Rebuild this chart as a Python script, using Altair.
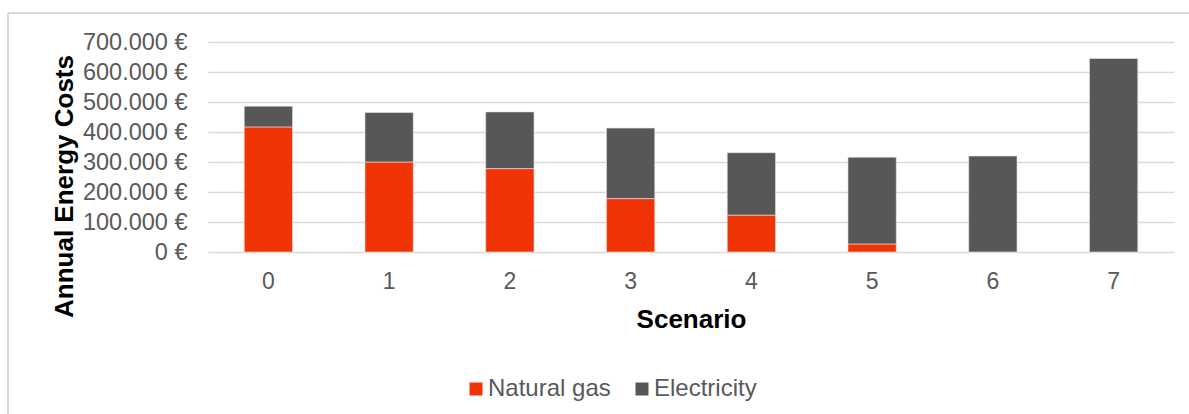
import altair as alt
import pandas as pd

# Annual energy costs per scenario, split by energy carrier (EUR)
scenarios = ["0", "1", "2", "3", "4", "5", "6", "7"]
natural_gas = [417000, 300000, 278000, 178000, 123000, 27000, 0, 0]
electricity = [69000, 165000, 189000, 235000, 208000, 289000, 320000, 645000]
carriers = ["Natural gas", "Electricity"]
carrier_colors = ["#F03405", "#575757"]
y_ticks = [0, 100000, 200000, 300000, 400000, 500000, 600000, 700000]

rows = []
for i, s in enumerate(scenarios):
    rows.append({"Scenario": s, "Carrier": carriers[0], "Cost": natural_gas[i], "k": 0})
    rows.append({"Scenario": s, "Carrier": carriers[1], "Cost": electricity[i], "k": 1})
df = pd.DataFrame(rows)

FONT = "Liberation Sans"
W, H = 966, 210

bars = alt.Chart(df).mark_bar(stroke="#e6e6e6", strokeWidth=0.6).encode(
    x=alt.X(
        "Scenario:N",
        sort=scenarios,
        scale=alt.Scale(paddingInner=0.6, paddingOuter=0.3),
        axis=alt.Axis(
            title="Scenario",
            labelAngle=0,
            ticks=False,
            domain=False,
            labelFont=FONT,
            labelFontSize=23,
            labelColor="#595959",
            labelPadding=18,
            titleFont=FONT,
            titleFontSize=26,
            titleFontWeight="bold",
            titleColor="#000000",
            titleBaseline="alphabetic",
            titleY=75,
            titleX=W / 2,
        ),
    ),
    y=alt.Y(
        "Cost:Q",
        stack="zero",
        scale=alt.Scale(domain=[0, 700000], nice=False),
        axis=alt.Axis(
            title="Annual Energy Costs",
            values=y_ticks,
            labelExpr="datum.value == 0 ? '0 €' : format(datum.value / 1000, 'd') + '.000 €'",
            ticks=False,
            domain=False,
            grid=True,
            gridColor="#d9d9d9",
            gridWidth=1.4,
            labelFont=FONT,
            labelFontSize=23.5,
            labelColor="#595959",
            labelPadding=21,
            titleFont=FONT,
            titleFontSize=26,
            titleFontWeight="bold",
            titleColor="#000000",
            titleAngle=270,
            titleAlign="center",
            titleBaseline="alphabetic",
            titleX=-136,
            titleY=144,
        ),
    ),
    color=alt.Color(
        "Carrier:N",
        scale=alt.Scale(domain=carriers, range=carrier_colors),
        legend=alt.Legend(
            title=None,
            orient="none",
            direction="horizontal",
            legendX=256,
            legendY=335,
            symbolType="square",
            symbolSize=169,
            symbolStrokeWidth=0,
            labelFont=FONT,
            labelFontSize=24,
            labelColor="#595959",
            labelOffset=0,
            columnPadding=19,
            padding=0,
        ),
    ),
    order=alt.Order("k:Q", sort="ascending"),
)

# Light frame along the top and left edges of the chart
frame_top = alt.Chart(df).mark_rule(color="#d9d9d9", strokeWidth=1.3).encode(
    x=alt.value(-200), x2=alt.value(W + 20), y=alt.value(-29)
)
frame_left = alt.Chart(df).mark_rule(color="#d9d9d9", strokeWidth=1.3).encode(
    x=alt.value(-200), y=alt.value(-29), y2=alt.value(H + 170)
)

chart = alt.layer(frame_top, frame_left, bars).properties(
    width=W,
    height=H,
    autosize=alt.AutoSizeParams(type="none"),
    padding={"left": 208, "top": 42, "right": 15, "bottom": 162},
    background="#ffffff",
).configure_view(stroke=None)

chart.save("out.html", embed_options={"renderer": "svg", "actions": False})
